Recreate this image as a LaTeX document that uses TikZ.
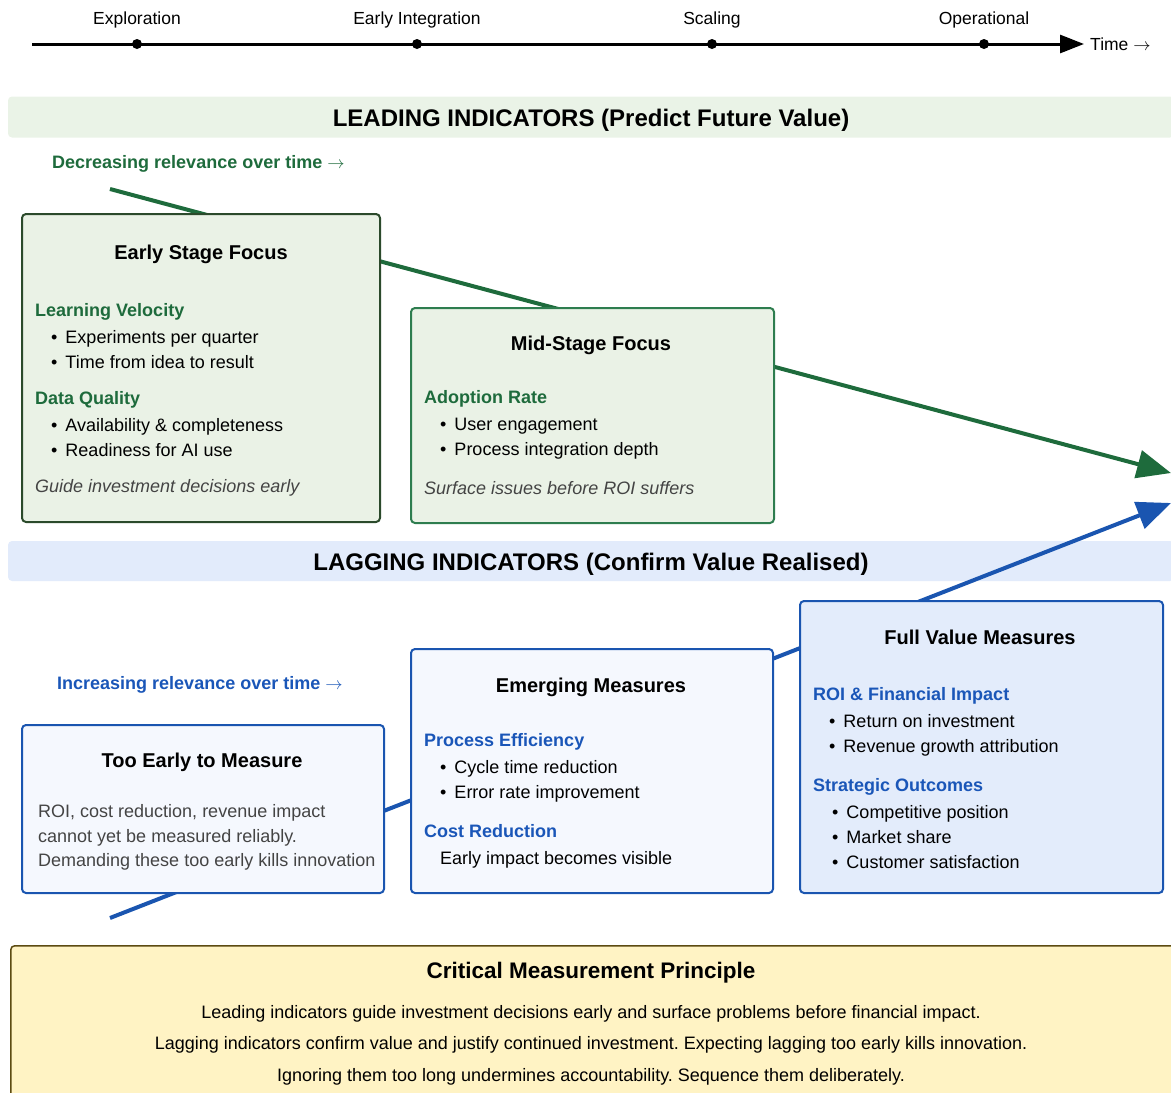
\documentclass[tikz,border=0pt]{standalone}
\usepackage{fontspec}
\setmainfont{Liberation Sans}
\usepackage{tikz}
\usetikzlibrary{arrows.meta, positioning}
\frenchspacing

\definecolor{leadtext}{HTML}{1E6B3C}
\definecolor{leadline}{HTML}{2E7D4F}
\definecolor{leaddark}{HTML}{2B4A2B}
\definecolor{leadfill}{HTML}{EAF2E6}
\definecolor{leadband}{HTML}{EAF3E7}
\definecolor{lagtext}{HTML}{1A56B8}
\definecolor{lagline}{HTML}{1A55B0}
\definecolor{lagpale}{HTML}{F5F8FE}
\definecolor{lagfill}{HTML}{E3ECFB}
\definecolor{lagband}{HTML}{E2EBFB}
\definecolor{notefill}{HTML}{FFF3C4}
\definecolor{noteline}{HTML}{5C4B12}
\definecolor{notegray}{HTML}{444444}

\tikzstyle{phase} = [font=\fontsize{17.5}{20}\selectfont, inner sep=0, yshift=-2pt]
\tikzstyle{dot} = [circle, fill=black, inner sep=0, minimum size=10pt]
\tikzstyle{timeline} = [line width=3pt, -{Triangle[length=24pt,width=18pt]}]
\tikzstyle{band} = [rounded corners=4pt, font=\fontsize{24}{28}\selectfont\bfseries, inner sep=0, text height=20pt, text depth=2pt]
\tikzstyle{trend} = [font=\fontsize{18}{21}\selectfont\bfseries, anchor=west, inner sep=0, text height=13pt, text depth=4pt, yshift=-1pt]
\tikzstyle{leadarrow} = [line width=4pt, draw=leadtext, -{Triangle[length=34pt,width=28pt]}]
\tikzstyle{lagarrow} = [line width=4pt, draw=lagline, -{Triangle[length=34pt,width=28pt]}]
\tikzstyle{stagebox} = [rectangle, rounded corners=4pt, line width=2pt, anchor=north west, inner sep=0]
\tikzstyle{boxtitle} = [font=\fontsize{20}{24}\selectfont\bfseries, inner sep=0, text height=14pt, text depth=4pt, yshift=-2pt]
\tikzstyle{subhead} = [font=\fontsize{18}{21}\selectfont\bfseries, anchor=west, inner sep=0, text height=13pt, text depth=4pt, yshift=-2pt]
\tikzstyle{item} = [font=\fontsize{18}{21}\selectfont, anchor=west, inner sep=0, text height=13pt, text depth=4pt, yshift=-2pt]
\tikzstyle{remark} = [font=\fontsize{18}{21}\selectfont\itshape, text=notegray, anchor=west, inner sep=0, text height=13pt, text depth=4pt, yshift=-2pt]
\tikzstyle{principle} = [font=\fontsize{18}{21}\selectfont, inner sep=0, text height=13pt, text depth=4pt, yshift=-2pt]

\newcommand{\bul}{\textbullet\hspace{8pt}}
\newcommand{\tarrow}{\ensuremath{\rightarrow}}

\begin{document}
\begin{tikzpicture}[x=1pt, y=-1pt]
\useasboundingbox (0,0) rectangle (1171,1093);
\clip (0,0) rectangle (1171,1093);

% time axis
\coordinate (tstart) at (32,44);
\node (timelbl) [phase, anchor=west, yshift=2pt] at (1090,44) {Time \tarrow};
\draw [timeline] (tstart) -- ([xshift=-6pt]timelbl.west);
\foreach \x/\name/\lbl in {137/explore/Exploration, 417/integrate/Early Integration, 712/scale/Scaling, 984/operate/Operational}
{
  \node (\name dot) [dot] at (\x,44) {};
  \node (\name) [phase] at (\x,18) {\lbl};
}

% bands
\node (leadhead) [band, fill=leadband, minimum width=1166pt, minimum height=41pt] at (591,117) {LEADING INDICATORS (Predict Future Value)};
\node (laghead) [band, fill=lagband, minimum width=1166pt, minimum height=40pt] at (591,561) {LAGGING INDICATORS (Confirm Value Realised)};

\node (decrease) [trend, text=leadtext] at (52,163) {Decreasing relevance over time \tarrow};
\node (increase) [trend, text=lagtext] at (57,684) {Increasing relevance over time \tarrow};

% trend arrows behind the boxes
\coordinate (gstart) at (110,189);
\coordinate (gend) at (1171,473);
\draw [leadarrow] (gstart) -- (gend);
\coordinate (bstart) at (110,918);
\coordinate (bend) at (1171,503);
\draw [lagarrow] (bstart) -- (bend);

% leading boxes
\node (early) [stagebox, draw=leaddark, fill=leadfill, minimum width=358pt, minimum height=308pt] at (21,213) {};
\node (earlytitle) [boxtitle] at (201,252) {Early Stage Focus};
\node (velocity) [subhead, text=leadtext] at (35,310) {Learning Velocity};
\node (vel1) [item] at (51,337) {\bul Experiments per quarter};
\node (vel2) [item] at (51,362) {\bul Time from idea to result};
\node (quality) [subhead, text=leadtext] at (35,398) {Data Quality};
\node (qual1) [item] at (51,425) {\bul Availability \& completeness};
\node (qual2) [item] at (51,450) {\bul Readiness for AI use};
\node (earlynote) [remark] at (35,486) {Guide investment decisions early};

\node (mid) [stagebox, draw=leadline, fill=leadfill, minimum width=363pt, minimum height=215pt] at (410,307) {};
\node (midtitle) [boxtitle] at (591,343) {Mid-Stage Focus};
\node (adoption) [subhead, text=leadtext] at (424,397) {Adoption Rate};
\node (adopt1) [item] at (440,424) {\bul User engagement};
\node (adopt2) [item] at (440,449) {\bul Process integration depth};
\node (midnote) [remark] at (424,488) {Surface issues before ROI suffers};

% lagging boxes
\node (tooearly) [stagebox, draw=lagline, fill=lagpale, minimum width=362pt, minimum height=168pt] at (21,724) {};
\node (tooearlytitle) [boxtitle] at (202,760) {Too Early to Measure};
\node (warn1) [item, text=notegray] at (38,811) {ROI, cost reduction, revenue impact};
\node (warn2) [item, text=notegray] at (38,836) {cannot yet be measured reliably.};
\node (warn3) [item, text=notegray] at (38,860) {Demanding these too early kills innovation};

\node (emerging) [stagebox, draw=lagline, fill=lagpale, minimum width=362pt, minimum height=244pt] at (410,648) {};
\node (emergingtitle) [boxtitle] at (591,685) {Emerging Measures};
\node (efficiency) [subhead, text=lagtext] at (424,740) {Process Efficiency};
\node (eff1) [item] at (440,767) {\bul Cycle time reduction};
\node (eff2) [item] at (440,792) {\bul Error rate improvement};
\node (cost) [subhead, text=lagtext] at (424,831) {Cost Reduction};
\node (cost1) [item] at (440,858) {Early impact becomes visible};

\node (full) [stagebox, draw=lagline, fill=lagfill, minimum width=363pt, minimum height=292pt] at (799,600) {};
\node (fulltitle) [boxtitle] at (980,637) {Full Value Measures};
\node (roi) [subhead, text=lagtext] at (813,694) {ROI \& Financial Impact};
\node (roi1) [item] at (829,721) {\bul Return on investment};
\node (roi2) [item] at (829,746) {\bul Revenue growth attribution};
\node (strategic) [subhead, text=lagtext] at (813,785) {Strategic Outcomes};
\node (strat1) [item] at (832,812) {\bul Competitive position};
\node (strat2) [item] at (832,837) {\bul Market share};
\node (strat3) [item] at (832,862) {\bul Customer satisfaction};

% principle
\node (critical) [stagebox, draw=noteline, fill=notefill, line width=1.5pt, minimum width=1170pt, minimum height=180pt] at (10,945) {};
\node (criticaltitle) [boxtitle, font=\fontsize{22.5}{26}\selectfont\bfseries] at (591,971) {Critical Measurement Principle};
\node (rule1) [principle] at (591,1012) {Leading indicators guide investment decisions early and surface problems before financial impact.};
\node (rule2) [principle] at (591,1043) {Lagging indicators confirm value and justify continued investment. Expecting lagging too early kills innovation.};
\node (rule3) [principle] at (591,1075) {Ignoring them too long undermines accountability. Sequence them deliberately.};

\end{tikzpicture}
\end{document}
